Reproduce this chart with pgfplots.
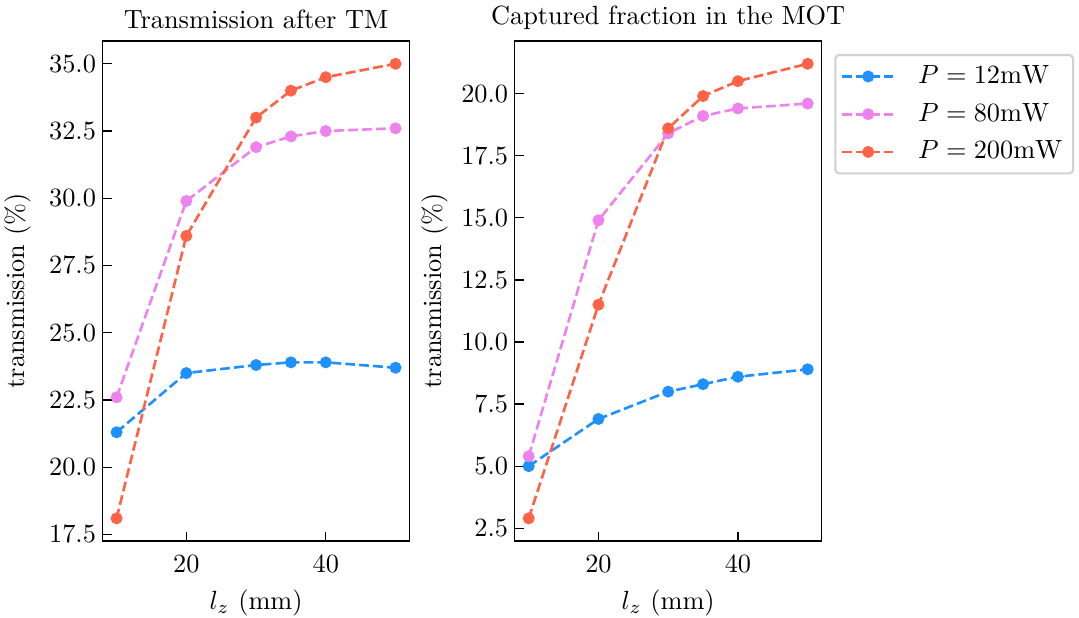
\documentclass[border=0pt]{standalone}
\usepackage{pgfplots}
\pgfplotsset{compat=1.18}
\definecolor{cblue}{RGB}{30,144,255}
\definecolor{cviolet}{RGB}{238,130,238}
\definecolor{cred}{RGB}{255,99,71}
\pgfplotsset{
  myax/.style={
    width=116.6pt, height=190pt, scale only axis,
    xmin=8, xmax=52, xtick={20,40},
    tick align=inside, xtick pos=bottom, ytick pos=left,
    major tick length=3.5pt,
    axis line style={line width=0.5pt},
    tick style={black, line width=0.5pt},
    xlabel={$l_z$ (mm)}, ylabel={transmission (\%)},
    xticklabel style={yshift=-1.8pt},
    yticklabel style={xshift=1pt, /pgf/number format/.cd, fixed, fixed zerofill, precision=1},
    every axis plot/.append style={line width=1pt, dash pattern=on 3.7pt off 1.6pt, mark=*, mark size=1.75pt, mark options={solid}},
    title style={yshift=-5pt},
  }
}
\begin{document}
\begin{tikzpicture}
\useasboundingbox (-39.0pt,-28.9pt) rectangle (371.0pt,205.6pt);
\begin{axis}[myax,
  ymin=17.255, ymax=35.845, ytick={17.5,20,22.5,25,27.5,30,32.5,35},
  title={Transmission after TM}]
\addplot[cblue] coordinates {(10,21.3) (20,23.5) (30,23.8) (35,23.9) (40,23.9) (50,23.7)};
\addplot[cviolet] coordinates {(10,22.6) (20,29.9) (30,31.9) (35,32.3) (40,32.5) (50,32.6)};
\addplot[cred] coordinates {(10,18.1) (20,28.6) (30,33.0) (35,34.0) (40,34.5) (50,35.0)};
\end{axis}
\begin{axis}[myax, at={(156.6pt,0pt)},
  ymin=1.985, ymax=22.115, ytick={2.5,5,7.5,10,12.5,15,17.5,20},
  ylabel style={xshift=0pt, yshift=-2pt},
  title={Captured fraction in the MOT},
  legend style={at={(1,1)}, anchor=north west, xshift=4.8pt, yshift=-4.9pt,
    draw=black!18, line width=0.8pt, rounded corners=1.5pt, fill=white,
    inner sep=2pt, row sep=2pt, font=\normalsize,
    /tikz/every odd column/.append style={column sep=6.5pt}},
  legend cell align=left,
  legend image code/.code={\draw[mark repeat=2,mark phase=2,#1] plot coordinates {(0pt,0pt) (10pt,0pt) (20pt,0pt)};}]
\addplot[cblue] coordinates {(10,5.0) (20,6.9) (30,8.0) (35,8.3) (40,8.6) (50,8.9)};
\addlegendentry{$P=12\mathrm{mW}$}
\addplot[cviolet] coordinates {(10,5.4) (20,14.9) (30,18.4) (35,19.1) (40,19.4) (50,19.6)};
\addlegendentry{$P=80\mathrm{mW}$}
\addplot[cred] coordinates {(10,2.9) (20,11.5) (30,18.6) (35,19.9) (40,20.5) (50,21.2)};
\addlegendentry{$P=200\mathrm{mW}$}
\end{axis}
\end{tikzpicture}
\end{document}
